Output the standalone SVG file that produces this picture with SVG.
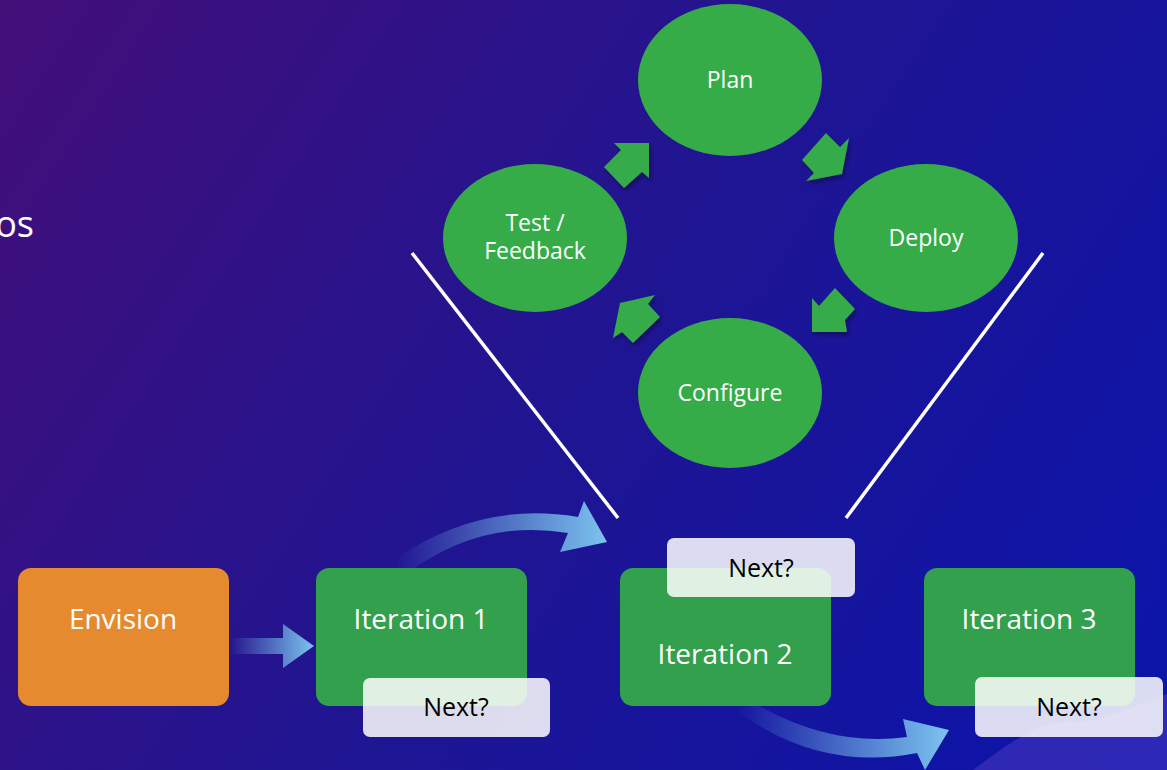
<svg xmlns="http://www.w3.org/2000/svg" width="1167" height="770" viewBox="0 0 1167 770">
<defs>
<linearGradient id="bg" x1="0" y1="0" x2="1167" y2="770" gradientUnits="userSpaceOnUse">
<stop offset="0" stop-color="#430f79"/>
<stop offset="0.5" stop-color="#1f1592"/>
<stop offset="1" stop-color="#0a14ab"/>
</linearGradient>
<linearGradient id="fade1" x1="230" y1="0" x2="314" y2="0" gradientUnits="userSpaceOnUse">
<stop offset="0" stop-color="#7cc4ee" stop-opacity="0"/>
<stop offset="1" stop-color="#7cc4ee"/>
</linearGradient>
<linearGradient id="fade2" x1="395" y1="0" x2="607" y2="0" gradientUnits="userSpaceOnUse">
<stop offset="0" stop-color="#7cc4ee" stop-opacity="0"/>
<stop offset="1" stop-color="#7cc4ee"/>
</linearGradient>
<linearGradient id="fade3" x1="737" y1="0" x2="949" y2="0" gradientUnits="userSpaceOnUse">
<stop offset="0" stop-color="#7cc4ee" stop-opacity="0"/>
<stop offset="1" stop-color="#7cc4ee"/>
</linearGradient>
<filter id="sh" x="-30%" y="-30%" width="160%" height="160%">
<feDropShadow dx="2" dy="3" stdDeviation="2" flood-color="#000" flood-opacity="0.35"/>
</filter>
</defs>
<style>
.ell{fill:#36ac48}
.barrow{fill:#36ac48;filter:url(#sh)}
.box{fill:#33a04d}
.env{fill:#e58a2e}
.next{fill:#ffffff;fill-opacity:0.85}
.t{font-family:"Open Sans","Noto Sans",sans-serif;fill:#ffffff;text-anchor:middle}
.s{font-size:23px}
.b{font-size:28px}
.n{font-family:"Open Sans","Noto Sans",sans-serif;fill:#000000;text-anchor:middle;font-size:25px}
.ln{stroke:#ffffff;stroke-width:3.5;fill:none}
</style>
<rect x="0" y="0" width="1167" height="770" fill="url(#bg)"/>
<path d="M973,770 C1010,742 1040,720 1075,722 C1110,722 1140,701 1167,694 L1167,770 Z" fill="#4a38c0" fill-opacity="0.55"/>
<text x="34" y="237" class="t" style="text-anchor:end;font-size:36px">os</text>

<g id="connectors">
<polygon class="barrow" points="614,143 649,143 649,178 642,172 624,188 604,167 621,150"/>
<polygon class="barrow" points="826,133 840,147 849,138 842,174 806,181 814,173 802,160"/>
<polygon class="barrow" points="835,288 855,309 845,320 847,332 812,332 812,298 819,306"/>
<polygon class="barrow" points="620,303 655,295 648,304 660,317 633,343 622,332 613,338"/>
<line class="ln" x1="412" y1="253" x2="618" y2="518"/>
<line class="ln" x1="1043" y1="253" x2="846" y2="518"/>
<polygon points="230,638 283,638 283,624 314,646 283,668 283,654 230,654" fill="url(#fade1)"/>
<path d="M394,560 Q480,500 578,517 L584,501 L607,542 L560,552 L568,533 Q480,518 405,575 Z" fill="url(#fade2)"/>
<path d="M750,701 Q830,748 907,737 L903,719 L949,730 L925,770 L917,753 Q820,772 737,711 Z" fill="url(#fade3)"/>
</g>

<g id="plan"><ellipse class="ell" cx="730" cy="80" rx="92" ry="76"/><text class="t s" x="730" y="88">Plan</text></g>
<g id="deploy"><ellipse class="ell" cx="926" cy="238" rx="92" ry="74"/><text class="t s" x="926" y="246">Deploy</text></g>
<g id="configure"><ellipse class="ell" cx="730" cy="393" rx="92" ry="75"/><text class="t s" x="730" y="401">Configure</text></g>
<g id="test"><ellipse class="ell" cx="535" cy="238" rx="92" ry="74"/><text class="t s" x="535" y="231">Test /</text><text class="t s" x="535" y="259">Feedback</text></g>

<g id="envision"><rect class="env" x="18" y="568" width="211" height="138" rx="13"/><text class="t b" x="123" y="629">Envision</text></g>
<g id="iteration1"><rect class="box" x="316" y="568" width="211" height="138" rx="13"/><text class="t b" x="421" y="629">Iteration 1</text></g>
<g id="iteration2"><rect class="box" x="620" y="568" width="211" height="138" rx="13"/><text class="t b" x="725" y="664">Iteration 2</text></g>
<g id="iteration3"><rect class="box" x="924" y="568" width="211" height="138" rx="13"/><text class="t b" x="1029" y="629">Iteration 3</text></g>

<g id="next1"><rect class="next" x="363" y="678" width="187" height="59" rx="7"/><text class="n" x="456" y="716">Next?</text></g>
<g id="next2"><rect class="next" x="667" y="538" width="188" height="59" rx="7"/><text class="n" x="761" y="577">Next?</text></g>
<g id="next3"><rect class="next" x="975" y="677" width="188" height="60" rx="7"/><text class="n" x="1069" y="716">Next?</text></g>
</svg>
